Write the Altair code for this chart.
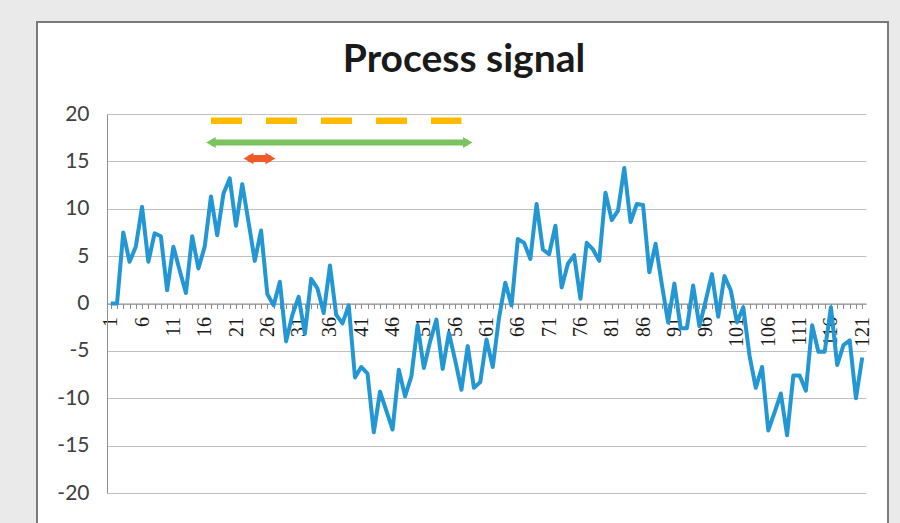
import altair as alt
import pandas as pd

# Sample index and measured process value
samples = list(range(1, 122))
signal = [
    0.0, 0.0, 7.5, 4.4, 6.0, 10.2, 4.4, 7.4, 7.1, 1.4,
    6.0, 3.5, 1.1, 7.1, 3.7, 6.0, 11.3, 7.2, 11.6, 13.2,
    8.2, 12.6, 8.6, 4.5, 7.7, 1.0, -0.2, 2.3, -4.0, -1.2,
    0.7, -3.2, 2.6, 1.6, -1.0, 4.0, -1.2, -2.1, -0.2, -7.8,
    -6.7, -7.4, -13.6, -9.3, -11.3, -13.3, -7.0, -9.8, -7.7, -2.3,
    -6.8, -4.0, -1.7, -6.9, -3.1, -6.0, -9.1, -4.5, -8.9, -8.3,
    -3.8, -6.7, -1.5, 2.2, -0.2, 6.8, 6.4, 4.7, 10.5, 5.7,
    5.2, 8.2, 1.7, 4.2, 5.1, 0.5, 6.4, 5.7, 4.5, 11.7,
    8.8, 9.8, 14.3, 8.6, 10.5, 10.4, 3.3, 6.3, 2.0, -2.0,
    2.1, -2.6, -2.6, 1.9, -2.4, 0.3, 3.1, -1.4, 2.9, 1.4,
    -2.0, -0.4, -5.5, -8.9, -6.7, -13.4, -11.5, -9.5, -13.9, -7.6,
    -7.6, -9.2, -2.3, -5.1, -5.1, -0.4, -6.5, -4.4, -3.9, -10.0,
    -5.7,
]

# Window spans drawn above the signal (start sample, end sample, level)
window_dashed = [17, 57]
window_dashed_level = 19.3
window_long = [17, 58]
window_long_level = 17.0
window_short = [23, 26.5]
window_short_level = 15.3

y_ticks = [-20, -15, -10, -5, 0, 5, 10, 15, 20]
chart_title = "Process signal"

BLUE = "#2297D4"
ORANGE = "#FFBA00"
GREEN = "#7AC35E"
RED = "#F05A28"
GRID = "#C0C0C0"
AXIS = "#8C8C8C"

W, H = 759, 379

signal_df = pd.DataFrame({"sample": samples, "value": signal})

x_scale = alt.Scale(domain=[0.4, 121.6], nice=False, zero=False)
y_scale = alt.Scale(domain=[-20, 20], nice=False, zero=False)

# Category axis crosses the value axis at zero; a tick on every sample,
# a label on every fifth one.
x_axis = alt.Axis(
    values=samples,
    tickCount=500,
    format="d",
    labelExpr="(datum.value - 1) % 5 == 0 ? datum.label : ''",
    labelAngle=270,
    labelFont="Liberation Serif",
    labelFontSize=20,
    labelColor="#1A1A1A",
    labelOverlap=False,
    labelPadding=8,
    tickSize=5,
    tickColor=AXIS,
    domainColor=AXIS,
    offset=-H / 2,
    grid=False,
    title=None,
)
y_axis = alt.Axis(
    values=y_ticks,
    labelExpr="'' + datum.value",
    grid=True,
    gridColor=GRID,
    domainColor=AXIS,
    ticks=False,
    labelPadding=18,
    labelFont="Lato",
    labelFontSize=21,
    labelColor="#404040",
    title=None,
)

line = alt.Chart(signal_df).mark_line(
    color=BLUE, strokeWidth=4, strokeJoin="round"
).encode(
    x=alt.X("sample:Q", scale=x_scale, axis=x_axis),
    y=alt.Y("value:Q", scale=y_scale, axis=y_axis),
)


def span_rule(span, level, **style):
    df = pd.DataFrame({"start": [span[0]], "end": [span[1]], "level": [level]})
    return alt.Chart(df).mark_rule(**style).encode(
        x=alt.X("start:Q", scale=x_scale),
        x2="end:Q",
        y=alt.Y("level:Q", scale=y_scale),
    )


def arrow_heads(span, level, color, size):
    df = pd.DataFrame({
        "pos": [span[0], span[1]],
        "level": [level, level],
        "head": ["triangle-left", "triangle-right"],
    })
    return alt.Chart(df).mark_point(filled=True, opacity=1, color=color, size=size).encode(
        x=alt.X("pos:Q", scale=x_scale),
        y=alt.Y("level:Q", scale=y_scale),
        shape=alt.Shape("head:N", scale=None),
    )


dashed = span_rule(window_dashed, window_dashed_level, color=ORANGE,
                   strokeWidth=6.5, strokeDash=[31, 24], strokeCap="butt")
long_arrow = span_rule(window_long, window_long_level, color=GREEN, strokeWidth=6)
long_heads = arrow_heads(window_long, window_long_level, GREEN, 120)
short_arrow = span_rule(window_short, window_short_level, color=RED, strokeWidth=7)
short_heads = arrow_heads(window_short, window_short_level, RED, 130)

# Chart frame: grey surround and thin border around the white chart card
frame_df = pd.DataFrame({"k": [0]})
surround = alt.Chart(frame_df).mark_rect(
    filled=False, stroke="#EAEAEA", strokeWidth=80, clip=False
).encode(
    x=alt.value(-110), x2=alt.value(821), y=alt.value(-132), y2=alt.value(470)
)
border = alt.Chart(frame_df).mark_rect(
    filled=False, stroke="#7A7A7A", strokeWidth=2, clip=False
).encode(
    x=alt.value(-70), x2=alt.value(781), y=alt.value(-92), y2=alt.value(430)
)

# Heading centred on the chart card
title_df = pd.DataFrame({"text": [chart_title]})
heading = alt.Chart(title_df).mark_text(
    font="Lato", fontSize=39, fontWeight="bold", color="#1A1A1A",
    align="center", baseline="alphabetic", clip=False,
).encode(
    text="text:N", x=alt.value(357), y=alt.value(-42)
)

chart = alt.layer(
    line, dashed, long_arrow, long_heads, short_arrow, short_heads,
    surround, border, heading,
).properties(
    width=W,
    height=H,
    autosize=alt.AutoSizeParams(type="none"),
    padding={"left": 107, "top": 114, "right": 34, "bottom": 30},
    background="white",
).configure_view(strokeWidth=0)

chart.save("out.html", embed_options={"renderer": "svg", "actions": False})
